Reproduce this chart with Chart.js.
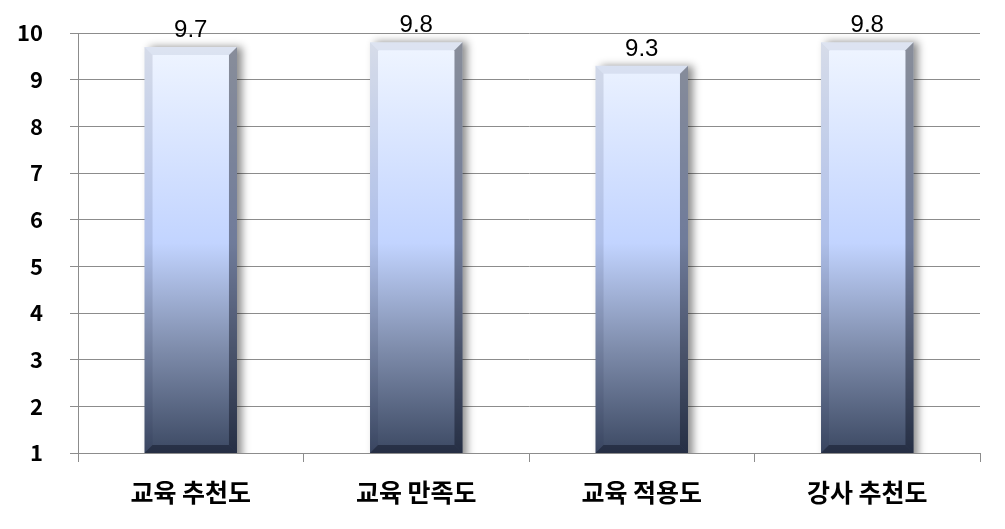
<!DOCTYPE html>
<html>
<head>
<meta charset="utf-8">
<script src="https://cdn.jsdelivr.net/npm/chart.js@4"></script>
<style>
  html, body { margin: 0; padding: 0; background: #fff; }
  #wrap { width: 1005px; height: 529px; }
</style>
</head>
<body>
<div id="wrap"><canvas id="bars"></canvas></div>
<script>
// data
const categories = ['교육 추천도', '교육 만족도', '교육 적용도', '강사 추천도'];
const scores = [9.7, 9.8, 9.3, 9.8];
const yTicks = [1, 2, 3, 4, 5, 6, 7, 8, 9, 10];
// data

const canvas = document.getElementById('bars');

// bar face gradient, built on the chart area
function faceGradient(context) {
    const chart = context.chart;
    const area = chart.chartArea;
    if (!area) return '#c3d5ff';
    const g = chart.ctx.createLinearGradient(0, area.top, 0, area.bottom);
    g.addColorStop(0, '#f2f7ff');
    g.addColorStop(0.5, '#c2d4ff');
    g.addColorStop(0.75, '#7f8dac');
    g.addColorStop(1, '#3c4963');
    return g;
}

// shadow under bars + bevel edges + value labels
const bevelBars = {
    id: 'bevelBars',
    beforeDatasetDraw(chart) {
        const ctx = chart.ctx;
        ctx.save();
        ctx.shadowColor = 'rgba(0,0,0,0.45)';
        ctx.shadowBlur = 8;
        ctx.shadowOffsetX = 5;
        ctx.shadowOffsetY = 0;
    },
    afterDatasetDraw(chart) {
        const ctx = chart.ctx;
        ctx.restore();
        const meta = chart.getDatasetMeta(0);
        const b = 8;
        meta.data.forEach((bar, i) => {
            const l = bar.x - bar.width / 2, r = bar.x + bar.width / 2;
            const t = bar.y, btm = Math.min(bar.base, chart.chartArea.bottom);
            const side = (pts, color) => {
                ctx.beginPath();
                ctx.moveTo(pts[0][0], pts[0][1]);
                for (let k = 1; k < pts.length; k++) ctx.lineTo(pts[k][0], pts[k][1]);
                ctx.closePath();
                ctx.fillStyle = color;
                ctx.fill();
            };
            side([[l, t], [r, t], [r - b, t + b], [l + b, t + b]], 'rgba(140,150,175,0.18)');
            side([[l, t], [l + b, t + b], [l + b, btm - b], [l, btm]], 'rgba(30,40,70,0.12)');
            side([[r, t], [r, btm], [r - b, btm - b], [r - b, t + b]], 'rgba(10,15,30,0.45)');
            side([[l, btm], [l + b, btm - b], [r - b, btm - b], [r, btm]], 'rgba(10,15,30,0.45)');

            ctx.fillStyle = '#000';
            ctx.font = '24px "Liberation Sans", Arial, sans-serif';
            ctx.textAlign = 'center';
            ctx.textBaseline = 'alphabetic';
            ctx.fillText(scores[i].toFixed(1), bar.x, t - 10);
        });
    }
};

new Chart(canvas, {
    type: 'bar',
    data: {
        labels: categories,
        datasets: [{
            data: scores,
            backgroundColor: faceGradient,
            borderWidth: 0,
            categoryPercentage: 0.82,
            barPercentage: 0.5
        }]
    },
    options: {
        responsive: true,
        maintainAspectRatio: false,
        animation: false,
        layout: { padding: { top: 33, right: 25, left: 0, bottom: 0 } },
        plugins: { legend: { display: false }, tooltip: { enabled: false } },
        scales: {
            x: {
                offset: true,
                grid: { offset: true, drawOnChartArea: false, color: '#8c8c8c', tickLength: 9 },
                border: { color: '#8c8c8c' },
                ticks: {
                    color: '#000',
                    padding: 15,
                    font: { family: '"Noto Sans CJK KR", sans-serif', size: 25, weight: 'bold' }
                },
                afterFit(scale) { scale.height = 76; }
            },
            y: {
                min: yTicks[0],
                max: yTicks[yTicks.length - 1],
                afterBuildTicks(scale) { scale.ticks = yTicks.map(v => ({ value: v })); },
                grid: { color: '#8c8c8c', tickLength: 8 },
                border: { color: '#8c8c8c' },
                ticks: {
                    color: '#000',
                    padding: 27,
                    font: { family: '"Noto Sans CJK KR", sans-serif', size: 22, weight: 'bold' }
                },
                afterFit(scale) {
                    scale.width = 78;
                    // tick padding would otherwise push the plot top down
                    scale.paddingTop = 0;
                    scale.paddingBottom = 0;
                }
            }
        }
    },
    plugins: [bevelBars]
});
</script>
</body>
</html>
